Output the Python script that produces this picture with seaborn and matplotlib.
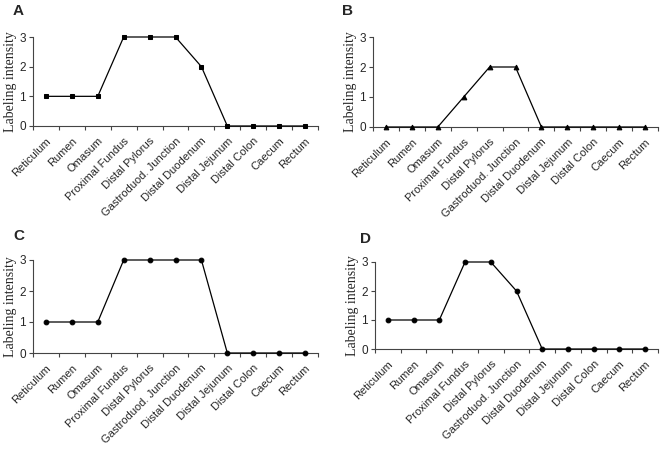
import numpy as np
import pandas as pd
import seaborn as sns
import matplotlib
matplotlib.use("Agg")
import matplotlib.pyplot as plt
from matplotlib.ticker import FixedLocator, NullFormatter

# Gut regions (x categories)
regions = ['Reticulum', 'Rumen', 'Omasum', 'Proximal Fundus', 'Distal Pylorus',
           'Gastroduod. Junction', 'Distal Duodenum', 'Distal Jejunum',
           'Distal Colon', 'Caecum', 'Rectum']

# Labeling intensity per panel
panel_a = [1, 1, 1, 3, 3, 3, 2, 0, 0, 0, 0]
panel_b = [0, 0, 0, 1, 2, 2, 0, 0, 0, 0, 0]
panel_c = [1, 1, 1, 3, 3, 3, 3, 0, 0, 0, 0]
panel_d = [1, 1, 1, 3, 3, 2, 0, 0, 0, 0, 0]

panel_names = ['A', 'B', 'C', 'D']
panel_values = [panel_a, panel_b, panel_c, panel_d]
panel_markers = ['s', '^', 'o', 'o']

sns.set_style("ticks")
plt.rcParams['font.family'] = ['Liberation Sans', 'DejaVu Sans']

W, H = 662, 450
fig = plt.figure(figsize=(W / 100, H / 100), dpi=100)

# axes boxes in pixels: left, right, y of value 3, y of value 0
boxes = [(33, 318, 37, 126), (373, 658, 37, 127),
         (33, 318, 260, 353), (375, 658, 262, 349)]
letter_pos = [(13, 11), (342, 11), (13, 236), (360, 239)]

n = len(regions)
for name, vals, mk, box, lp in zip(panel_names, panel_values, panel_markers, boxes, letter_pos):
    l, r, t, b = box
    ax = fig.add_axes([l / W, 1 - b / H, (r - l) / W, (b - t) / H])
    df = pd.DataFrame({'pos': np.arange(n), 'intensity': vals})
    sns.lineplot(data=df, x='pos', y='intensity', ax=ax, color='black',
                 linewidth=0.9, marker=mk, markersize=3.4,
                 markeredgecolor='black', markerfacecolor='black',
                 clip_on=False, zorder=3)
    ax.set_xlim(-0.5, n - 0.5)
    ax.set_ylim(0, 3)
    ax.set_yticks([0, 1, 2, 3])
    ax.tick_params(axis='y', labelsize=8.5, length=3, width=0.8, pad=2,
                   color='#444444')
    # tick marks on category boundaries, labels on category centres
    ax.xaxis.set_major_locator(FixedLocator(np.arange(n + 1) - 0.5))
    ax.xaxis.set_major_formatter(NullFormatter())
    ax.xaxis.set_minor_locator(FixedLocator(np.arange(n)))
    ax.set_xticklabels(regions, minor=True, rotation=45, ha='right',
                       rotation_mode='anchor', fontsize=8)
    ax.tick_params(axis='x', which='major', length=3, width=0.8, color='#444444')
    ax.tick_params(axis='x', which='minor', length=0, pad=7)
    for s in ['top', 'right']:
        ax.spines[s].set_visible(False)
    for s in ['left', 'bottom']:
        ax.spines[s].set_linewidth(0.8)
        ax.spines[s].set_color('#444444')
    ax.set_xlabel('')
    ax.set_ylabel('Labeling intensity', family=['Liberation Serif', 'DejaVu Serif'],
                  fontsize=10, labelpad=1.5)
    ax.grid(False)
    fig.text(lp[0] / W, 1 - lp[1] / H, name, fontsize=11, fontweight='bold',
             ha='left', va='center')

fig.savefig('out.png', dpi=100, facecolor='white')
